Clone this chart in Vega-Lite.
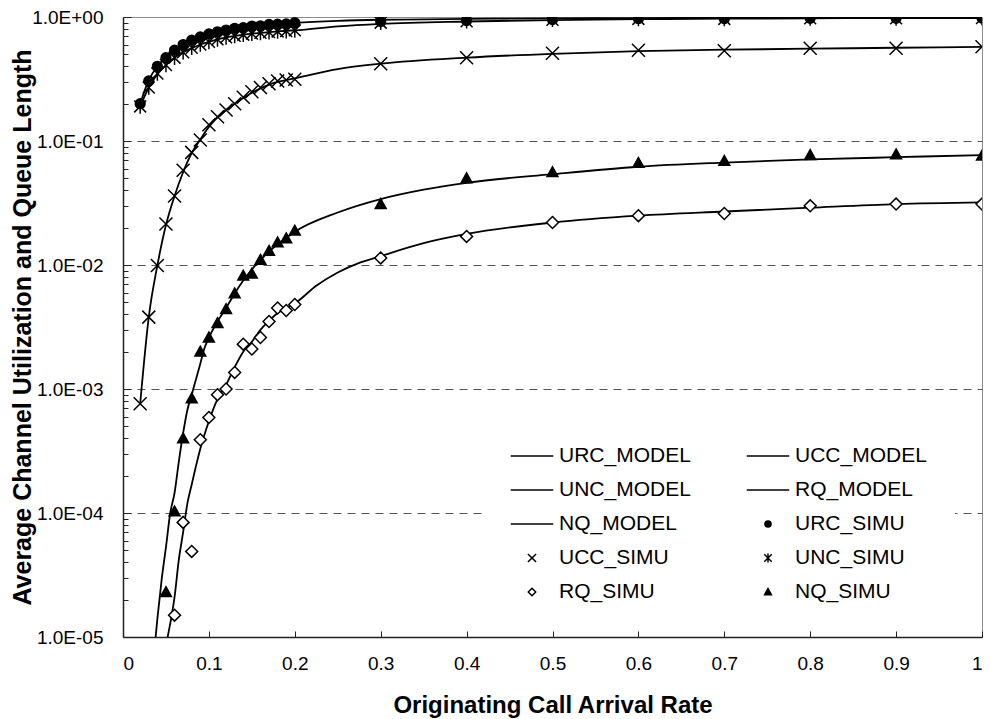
{
  "$schema": "https://vega.github.io/schema/vega-lite/v6.json",
  "width": 859,
  "height": 620,
  "autosize": "none",
  "padding": {"left": 123, "top": 17, "right": 9, "bottom": 82},
  "background": "white",
  "config": {"view": {"stroke": "#8c8c8c", "strokeWidth": 1}, "font": "Liberation Sans"},
  "data": {"values": [
    {"s":"URC_MODEL","x":0.02,"y":0.20},{"s":"URC_MODEL","x":0.03,"y":0.31},{"s":"URC_MODEL","x":0.04,"y":0.40},{"s":"URC_MODEL","x":0.05,"y":0.475},{"s":"URC_MODEL","x":0.06,"y":0.54},{"s":"URC_MODEL","x":0.07,"y":0.60},{"s":"URC_MODEL","x":0.08,"y":0.645},{"s":"URC_MODEL","x":0.09,"y":0.69},{"s":"URC_MODEL","x":0.10,"y":0.725},{"s":"URC_MODEL","x":0.11,"y":0.755},{"s":"URC_MODEL","x":0.12,"y":0.78},{"s":"URC_MODEL","x":0.13,"y":0.80},{"s":"URC_MODEL","x":0.14,"y":0.82},{"s":"URC_MODEL","x":0.15,"y":0.84},{"s":"URC_MODEL","x":0.16,"y":0.855},{"s":"URC_MODEL","x":0.17,"y":0.865},{"s":"URC_MODEL","x":0.18,"y":0.875},{"s":"URC_MODEL","x":0.19,"y":0.885},{"s":"URC_MODEL","x":0.20,"y":0.895},{"s":"URC_MODEL","x":0.25,"y":0.93},{"s":"URC_MODEL","x":0.3,"y":0.95},{"s":"URC_MODEL","x":0.4,"y":0.965},{"s":"URC_MODEL","x":0.5,"y":0.975},{"s":"URC_MODEL","x":0.6,"y":0.98},{"s":"URC_MODEL","x":0.7,"y":0.985},{"s":"URC_MODEL","x":0.8,"y":0.99},{"s":"URC_MODEL","x":0.9,"y":0.99},{"s":"URC_MODEL","x":1.0,"y":0.99},

    {"s":"UNC_MODEL","x":0.02,"y":0.19},{"s":"UNC_MODEL","x":0.03,"y":0.27},{"s":"UNC_MODEL","x":0.04,"y":0.345},{"s":"UNC_MODEL","x":0.05,"y":0.41},{"s":"UNC_MODEL","x":0.06,"y":0.47},{"s":"UNC_MODEL","x":0.07,"y":0.52},{"s":"UNC_MODEL","x":0.08,"y":0.56},{"s":"UNC_MODEL","x":0.09,"y":0.60},{"s":"UNC_MODEL","x":0.10,"y":0.63},{"s":"UNC_MODEL","x":0.11,"y":0.66},{"s":"UNC_MODEL","x":0.12,"y":0.685},{"s":"UNC_MODEL","x":0.13,"y":0.705},{"s":"UNC_MODEL","x":0.14,"y":0.72},{"s":"UNC_MODEL","x":0.15,"y":0.735},{"s":"UNC_MODEL","x":0.16,"y":0.745},{"s":"UNC_MODEL","x":0.17,"y":0.755},{"s":"UNC_MODEL","x":0.18,"y":0.765},{"s":"UNC_MODEL","x":0.19,"y":0.775},{"s":"UNC_MODEL","x":0.20,"y":0.78},{"s":"UNC_MODEL","x":0.25,"y":0.84},{"s":"UNC_MODEL","x":0.3,"y":0.88},{"s":"UNC_MODEL","x":0.4,"y":0.92},{"s":"UNC_MODEL","x":0.5,"y":0.945},{"s":"UNC_MODEL","x":0.6,"y":0.96},{"s":"UNC_MODEL","x":0.7,"y":0.97},{"s":"UNC_MODEL","x":0.8,"y":0.975},{"s":"UNC_MODEL","x":0.9,"y":0.98},{"s":"UNC_MODEL","x":1.0,"y":0.98},

    {"s":"UCC_MODEL","x":0.02,"y":0.00076},{"s":"UCC_MODEL","x":0.03,"y":0.0038},{"s":"UCC_MODEL","x":0.04,"y":0.0099},{"s":"UCC_MODEL","x":0.05,"y":0.021},{"s":"UCC_MODEL","x":0.06,"y":0.036},{"s":"UCC_MODEL","x":0.07,"y":0.056},{"s":"UCC_MODEL","x":0.08,"y":0.08},{"s":"UCC_MODEL","x":0.09,"y":0.103},{"s":"UCC_MODEL","x":0.10,"y":0.13},{"s":"UCC_MODEL","x":0.11,"y":0.155},{"s":"UCC_MODEL","x":0.12,"y":0.178},{"s":"UCC_MODEL","x":0.13,"y":0.20},{"s":"UCC_MODEL","x":0.14,"y":0.222},{"s":"UCC_MODEL","x":0.15,"y":0.245},{"s":"UCC_MODEL","x":0.16,"y":0.265},{"s":"UCC_MODEL","x":0.17,"y":0.285},{"s":"UCC_MODEL","x":0.18,"y":0.30},{"s":"UCC_MODEL","x":0.19,"y":0.31},{"s":"UCC_MODEL","x":0.20,"y":0.32},{"s":"UCC_MODEL","x":0.25,"y":0.38},{"s":"UCC_MODEL","x":0.3,"y":0.42},{"s":"UCC_MODEL","x":0.4,"y":0.47},{"s":"UCC_MODEL","x":0.5,"y":0.505},{"s":"UCC_MODEL","x":0.6,"y":0.53},{"s":"UCC_MODEL","x":0.7,"y":0.545},{"s":"UCC_MODEL","x":0.8,"y":0.555},{"s":"UCC_MODEL","x":0.9,"y":0.565},{"s":"UCC_MODEL","x":1.0,"y":0.575},

    {"s":"NQ_MODEL","x":0.035,"y":0.000006},{"s":"NQ_MODEL","x":0.04,"y":0.000014},{"s":"NQ_MODEL","x":0.045,"y":0.000029},{"s":"NQ_MODEL","x":0.05,"y":0.000053},{"s":"NQ_MODEL","x":0.055,"y":0.0001},{"s":"NQ_MODEL","x":0.06,"y":0.000145},{"s":"NQ_MODEL","x":0.065,"y":0.00026},{"s":"NQ_MODEL","x":0.07,"y":0.00044},{"s":"NQ_MODEL","x":0.075,"y":0.00068},{"s":"NQ_MODEL","x":0.08,"y":0.0009},{"s":"NQ_MODEL","x":0.085,"y":0.0012},{"s":"NQ_MODEL","x":0.09,"y":0.0016},{"s":"NQ_MODEL","x":0.095,"y":0.00215},{"s":"NQ_MODEL","x":0.10,"y":0.0026},{"s":"NQ_MODEL","x":0.11,"y":0.0035},{"s":"NQ_MODEL","x":0.12,"y":0.0045},{"s":"NQ_MODEL","x":0.13,"y":0.0059},{"s":"NQ_MODEL","x":0.14,"y":0.0075},{"s":"NQ_MODEL","x":0.15,"y":0.0092},{"s":"NQ_MODEL","x":0.16,"y":0.011},{"s":"NQ_MODEL","x":0.17,"y":0.0128},{"s":"NQ_MODEL","x":0.18,"y":0.0147},{"s":"NQ_MODEL","x":0.19,"y":0.0165},{"s":"NQ_MODEL","x":0.20,"y":0.0185},{"s":"NQ_MODEL","x":0.25,"y":0.0265},{"s":"NQ_MODEL","x":0.3,"y":0.034},{"s":"NQ_MODEL","x":0.35,"y":0.0405},{"s":"NQ_MODEL","x":0.4,"y":0.046},{"s":"NQ_MODEL","x":0.5,"y":0.054},{"s":"NQ_MODEL","x":0.6,"y":0.062},{"s":"NQ_MODEL","x":0.7,"y":0.067},{"s":"NQ_MODEL","x":0.8,"y":0.071},{"s":"NQ_MODEL","x":0.9,"y":0.074},{"s":"NQ_MODEL","x":1.0,"y":0.077},

    {"s":"RQ_MODEL","x":0.048,"y":0.000007},{"s":"RQ_MODEL","x":0.052,"y":0.00001},{"s":"RQ_MODEL","x":0.056,"y":0.000014},{"s":"RQ_MODEL","x":0.06,"y":0.000021},{"s":"RQ_MODEL","x":0.065,"y":0.000042},{"s":"RQ_MODEL","x":0.07,"y":0.00007},{"s":"RQ_MODEL","x":0.075,"y":0.00012},{"s":"RQ_MODEL","x":0.08,"y":0.00017},{"s":"RQ_MODEL","x":0.085,"y":0.00024},{"s":"RQ_MODEL","x":0.09,"y":0.00033},{"s":"RQ_MODEL","x":0.10,"y":0.00055},{"s":"RQ_MODEL","x":0.11,"y":0.00083},{"s":"RQ_MODEL","x":0.12,"y":0.00108},{"s":"RQ_MODEL","x":0.13,"y":0.0015},{"s":"RQ_MODEL","x":0.14,"y":0.002},{"s":"RQ_MODEL","x":0.15,"y":0.0024},{"s":"RQ_MODEL","x":0.16,"y":0.003},{"s":"RQ_MODEL","x":0.17,"y":0.00355},{"s":"RQ_MODEL","x":0.18,"y":0.0041},{"s":"RQ_MODEL","x":0.19,"y":0.0045},{"s":"RQ_MODEL","x":0.20,"y":0.0049},{"s":"RQ_MODEL","x":0.225,"y":0.0068},{"s":"RQ_MODEL","x":0.25,"y":0.0087},{"s":"RQ_MODEL","x":0.275,"y":0.0104},{"s":"RQ_MODEL","x":0.3,"y":0.0118},{"s":"RQ_MODEL","x":0.35,"y":0.015},{"s":"RQ_MODEL","x":0.4,"y":0.0178},{"s":"RQ_MODEL","x":0.5,"y":0.022},{"s":"RQ_MODEL","x":0.6,"y":0.025},{"s":"RQ_MODEL","x":0.7,"y":0.027},{"s":"RQ_MODEL","x":0.8,"y":0.029},{"s":"RQ_MODEL","x":0.9,"y":0.031},{"s":"RQ_MODEL","x":1.0,"y":0.032},

    {"s":"URC_SIMU","x":0.02,"y":0.20},{"s":"URC_SIMU","x":0.03,"y":0.305},{"s":"URC_SIMU","x":0.04,"y":0.40},{"s":"URC_SIMU","x":0.05,"y":0.47},{"s":"URC_SIMU","x":0.06,"y":0.54},{"s":"URC_SIMU","x":0.07,"y":0.60},{"s":"URC_SIMU","x":0.08,"y":0.65},{"s":"URC_SIMU","x":0.09,"y":0.69},{"s":"URC_SIMU","x":0.10,"y":0.73},{"s":"URC_SIMU","x":0.11,"y":0.76},{"s":"URC_SIMU","x":0.12,"y":0.785},{"s":"URC_SIMU","x":0.13,"y":0.81},{"s":"URC_SIMU","x":0.14,"y":0.82},{"s":"URC_SIMU","x":0.15,"y":0.845},{"s":"URC_SIMU","x":0.16,"y":0.85},{"s":"URC_SIMU","x":0.17,"y":0.87},{"s":"URC_SIMU","x":0.18,"y":0.875},{"s":"URC_SIMU","x":0.19,"y":0.88},{"s":"URC_SIMU","x":0.20,"y":0.90},{"s":"URC_SIMU","x":0.3,"y":0.92},{"s":"URC_SIMU","x":0.4,"y":0.935},{"s":"URC_SIMU","x":0.5,"y":0.955},{"s":"URC_SIMU","x":0.6,"y":0.97},{"s":"URC_SIMU","x":0.7,"y":0.97},{"s":"URC_SIMU","x":0.8,"y":0.975},{"s":"URC_SIMU","x":0.9,"y":0.975},{"s":"URC_SIMU","x":1.0,"y":0.98},

    {"s":"UCC_SIMU","x":0.02,"y":0.00076},{"s":"UCC_SIMU","x":0.03,"y":0.0038},{"s":"UCC_SIMU","x":0.04,"y":0.0099},{"s":"UCC_SIMU","x":0.05,"y":0.0214},{"s":"UCC_SIMU","x":0.06,"y":0.036},{"s":"UCC_SIMU","x":0.07,"y":0.058},{"s":"UCC_SIMU","x":0.08,"y":0.081},{"s":"UCC_SIMU","x":0.09,"y":0.102},{"s":"UCC_SIMU","x":0.10,"y":0.135},{"s":"UCC_SIMU","x":0.11,"y":0.157},{"s":"UCC_SIMU","x":0.12,"y":0.178},{"s":"UCC_SIMU","x":0.13,"y":0.20},{"s":"UCC_SIMU","x":0.14,"y":0.225},{"s":"UCC_SIMU","x":0.15,"y":0.25},{"s":"UCC_SIMU","x":0.16,"y":0.27},{"s":"UCC_SIMU","x":0.17,"y":0.29},{"s":"UCC_SIMU","x":0.18,"y":0.305},{"s":"UCC_SIMU","x":0.19,"y":0.31},{"s":"UCC_SIMU","x":0.20,"y":0.315},{"s":"UCC_SIMU","x":0.3,"y":0.42},{"s":"UCC_SIMU","x":0.4,"y":0.47},{"s":"UCC_SIMU","x":0.5,"y":0.51},{"s":"UCC_SIMU","x":0.6,"y":0.54},{"s":"UCC_SIMU","x":0.7,"y":0.535},{"s":"UCC_SIMU","x":0.8,"y":0.56},{"s":"UCC_SIMU","x":0.9,"y":0.56},{"s":"UCC_SIMU","x":1.0,"y":0.576},

    {"s":"UNC_SIMU","x":0.02,"y":0.19},{"s":"UNC_SIMU","x":0.03,"y":0.27},{"s":"UNC_SIMU","x":0.04,"y":0.35},{"s":"UNC_SIMU","x":0.05,"y":0.41},{"s":"UNC_SIMU","x":0.06,"y":0.47},{"s":"UNC_SIMU","x":0.07,"y":0.52},{"s":"UNC_SIMU","x":0.08,"y":0.565},{"s":"UNC_SIMU","x":0.09,"y":0.60},{"s":"UNC_SIMU","x":0.10,"y":0.63},{"s":"UNC_SIMU","x":0.11,"y":0.66},{"s":"UNC_SIMU","x":0.12,"y":0.685},{"s":"UNC_SIMU","x":0.13,"y":0.705},{"s":"UNC_SIMU","x":0.14,"y":0.72},{"s":"UNC_SIMU","x":0.15,"y":0.735},{"s":"UNC_SIMU","x":0.16,"y":0.745},{"s":"UNC_SIMU","x":0.17,"y":0.755},{"s":"UNC_SIMU","x":0.18,"y":0.765},{"s":"UNC_SIMU","x":0.19,"y":0.77},{"s":"UNC_SIMU","x":0.20,"y":0.78},{"s":"UNC_SIMU","x":0.3,"y":0.90},{"s":"UNC_SIMU","x":0.4,"y":0.925},{"s":"UNC_SIMU","x":0.5,"y":0.95},{"s":"UNC_SIMU","x":0.6,"y":0.965},{"s":"UNC_SIMU","x":0.7,"y":0.965},{"s":"UNC_SIMU","x":0.8,"y":0.975},{"s":"UNC_SIMU","x":0.9,"y":0.975},{"s":"UNC_SIMU","x":1.0,"y":0.98},

    {"s":"RQ_SIMU","x":0.06,"y":0.000015},{"s":"RQ_SIMU","x":0.07,"y":0.000084},{"s":"RQ_SIMU","x":0.08,"y":0.000049},{"s":"RQ_SIMU","x":0.09,"y":0.00039},{"s":"RQ_SIMU","x":0.10,"y":0.00059},{"s":"RQ_SIMU","x":0.11,"y":0.0009},{"s":"RQ_SIMU","x":0.12,"y":0.001},{"s":"RQ_SIMU","x":0.13,"y":0.00136},{"s":"RQ_SIMU","x":0.14,"y":0.0023},{"s":"RQ_SIMU","x":0.15,"y":0.0021},{"s":"RQ_SIMU","x":0.16,"y":0.0026},{"s":"RQ_SIMU","x":0.17,"y":0.0035},{"s":"RQ_SIMU","x":0.18,"y":0.0045},{"s":"RQ_SIMU","x":0.19,"y":0.0043},{"s":"RQ_SIMU","x":0.20,"y":0.0048},{"s":"RQ_SIMU","x":0.3,"y":0.0114},{"s":"RQ_SIMU","x":0.4,"y":0.017},{"s":"RQ_SIMU","x":0.5,"y":0.022},{"s":"RQ_SIMU","x":0.6,"y":0.025},{"s":"RQ_SIMU","x":0.7,"y":0.026},{"s":"RQ_SIMU","x":0.8,"y":0.030},{"s":"RQ_SIMU","x":0.9,"y":0.031},{"s":"RQ_SIMU","x":1.0,"y":0.031},

    {"s":"NQ_SIMU","x":0.05,"y":0.000023},{"s":"NQ_SIMU","x":0.06,"y":0.000103},{"s":"NQ_SIMU","x":0.07,"y":0.0004},{"s":"NQ_SIMU","x":0.08,"y":0.00084},{"s":"NQ_SIMU","x":0.09,"y":0.002},{"s":"NQ_SIMU","x":0.10,"y":0.0026},{"s":"NQ_SIMU","x":0.11,"y":0.0034},{"s":"NQ_SIMU","x":0.12,"y":0.0044},{"s":"NQ_SIMU","x":0.13,"y":0.0059},{"s":"NQ_SIMU","x":0.14,"y":0.0082},{"s":"NQ_SIMU","x":0.15,"y":0.0085},{"s":"NQ_SIMU","x":0.16,"y":0.011},{"s":"NQ_SIMU","x":0.17,"y":0.013},{"s":"NQ_SIMU","x":0.18,"y":0.0152},{"s":"NQ_SIMU","x":0.19,"y":0.0164},{"s":"NQ_SIMU","x":0.20,"y":0.0189},{"s":"NQ_SIMU","x":0.3,"y":0.031},{"s":"NQ_SIMU","x":0.4,"y":0.050},{"s":"NQ_SIMU","x":0.5,"y":0.056},{"s":"NQ_SIMU","x":0.6,"y":0.0665},{"s":"NQ_SIMU","x":0.7,"y":0.069},{"s":"NQ_SIMU","x":0.8,"y":0.077},{"s":"NQ_SIMU","x":0.9,"y":0.078},{"s":"NQ_SIMU","x":1.0,"y":0.076}
  ]},
  "encoding": {
    "x": {"field": "x", "type": "quantitative",
      "scale": {"domain": [0, 1], "nice": false, "zero": false},
      "axis": {"values": [0,0.1,0.2,0.3,0.4,0.5,0.6,0.7,0.8,0.9,1], "format": ".1~f",
        "grid": false, "domainColor": "#222", "domainWidth": 1.5, "tickColor": "#222", "tickWidth": 1, "tickSize": -6,
        "labelFontSize": 19, "labelColor": "black", "labelPadding": 23, "labelFont": "Liberation Sans",
        "title": "Originating Call Arrival Rate", "titleFontSize": 24, "titleFontWeight": "bold", "titleColor": "black", "titlePadding": 20, "titleFont": "Liberation Sans"}},
    "y": {"field": "y", "type": "quantitative",
      "scale": {"type": "log", "domain": [0.00001, 1], "nice": false},
      "axis": {"values": [0.00001,0.00002,0.00003,0.00004,0.00005,0.00006,0.00007,0.00008,0.00009,0.0001,0.0002,0.0003,0.0004,0.0005,0.0006,0.0007,0.0008,0.0009,0.001,0.002,0.003,0.004,0.005,0.006,0.007,0.008,0.009,0.01,0.02,0.03,0.04,0.05,0.06,0.07,0.08,0.09,0.1,0.2,0.3,0.4,0.5,0.6,0.7,0.8,0.9,1],
        "labelExpr": "abs(log(datum.value)/LN10 - round(log(datum.value)/LN10)) < 0.000001 ? (datum.value > 0.5 ? '1.0E+00' : '1.0E-0' + toString(-round(log(datum.value)/LN10))) : ''",
        "grid": true,
        "gridColor": "#555", "gridDash": [8, 6], "gridWidth": 1,
        "gridOpacity": {"condition": {"test": "abs(log(datum.value)/LN10 - round(log(datum.value)/LN10)) < 0.000001 && datum.value < 0.5 && datum.value > 0.00002", "value": 1}, "value": 0},
        "tickSize": {"condition": {"test": "abs(log(datum.value)/LN10 - round(log(datum.value)/LN10)) < 0.000001", "value": -8}, "value": -5},
        "tickColor": "#222", "domainColor": "#222", "domainWidth": 1.5,
        "labelFontSize": 19, "labelColor": "black", "labelPadding": 28, "labelFont": "Liberation Sans", "labelOverlap": false,
        "title": "Average Channel Utilization and Queue Length", "titleFontSize": 25, "titleFontWeight": "bold", "titleColor": "black", "titlePadding": -4, "titleFont": "Liberation Sans"}}
  },
  "layer": [
    {
      "transform": [{"filter": "indexof(datum.s, 'MODEL') >= 0"}],
      "mark": {"type": "line", "color": "black", "strokeWidth": 1.8, "interpolate": "monotone", "clip": true},
      "encoding": {"detail": {"field": "s", "type": "nominal"}}
    },
    {
      "transform": [{"filter": "indexof(datum.s, 'SIMU') >= 0"}],
      "mark": {"type": "point", "filled": true, "stroke": "black", "strokeWidth": 1.5, "size": 2934, "opacity": 1, "clip": true},
      "encoding": {
        "shape": {"field": "s", "type": "nominal",
          "scale": {"domain": ["URC_MODEL","UNC_MODEL","NQ_MODEL","UCC_SIMU","RQ_SIMU","UCC_MODEL","RQ_MODEL","URC_SIMU","UNC_SIMU","NQ_SIMU"],
            "range": ["M-1.25,0H1.25","M-1.25,0H1.25","M-1.25,0H1.25",
              "M-0.24,-0.24L0.24,0.24M-0.24,0.24L0.24,-0.24",
              "M0,-0.22L0.22,0L0,0.22L-0.22,0Z",
              "M-1.25,0H1.25","M-1.25,0H1.25",
              "M-0.18,0A0.18,0.18,0,1,0,0.18,0A0.18,0.18,0,1,0,-0.18,0Z",
              "M-0.22,-0.22L0.22,0.22M-0.22,0.22L0.22,-0.22M0,-0.27L0,0.27",
              "M0,-0.2L0.2,0.16L-0.2,0.16Z"]},
          "legend": {"title": null, "orient": "none", "legendX": 363, "legendY": 393, "columns": 2, "columnPadding": 52, "rowPadding": 6, "padding": 28, "fillColor": "white",
            "labelFontSize": 21, "labelFont": "Liberation Sans", "labelColor": "black", "labelOffset": 9, "labelLimit": 300,
            "symbolSize": 1156, "symbolStrokeWidth": 1.5, "symbolStrokeColor": "black", "symbolOpacity": 1,
            "encode": {"symbols": {"update": {"size": {"value": 1156}, "stroke": {"value": "black"}, "strokeWidth": {"value": 1.5}}}}}},
        "fill": {"field": "s", "type": "nominal",
          "scale": {"domain": ["URC_MODEL","UNC_MODEL","NQ_MODEL","UCC_SIMU","RQ_SIMU","UCC_MODEL","RQ_MODEL","URC_SIMU","UNC_SIMU","NQ_SIMU"],
            "range": ["white","white","white","white","white","white","white","black","white","black"]},
          "legend": {"title": null, "orient": "none", "legendX": 363, "legendY": 393, "columns": 2, "columnPadding": 52, "rowPadding": 6, "padding": 28, "fillColor": "white",
            "labelFontSize": 21, "labelFont": "Liberation Sans", "labelColor": "black", "labelOffset": 9, "labelLimit": 300,
            "symbolSize": 1156, "symbolStrokeWidth": 1.5, "symbolStrokeColor": "black", "symbolOpacity": 1,
            "encode": {"symbols": {"update": {"size": {"value": 1156}, "stroke": {"value": "black"}, "strokeWidth": {"value": 1.5}}}}}}
      }
    }
  ]
}
